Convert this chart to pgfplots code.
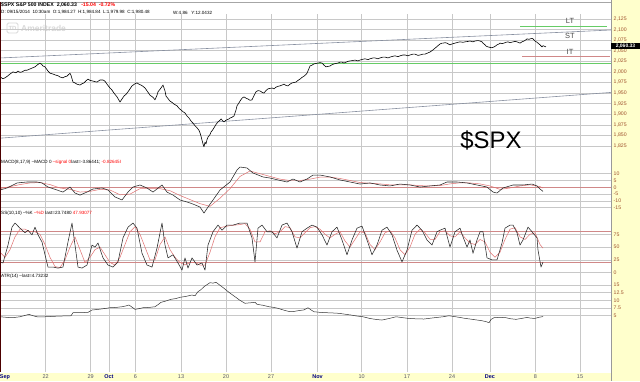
\documentclass[border=0pt]{standalone}
\usepackage{pgfplots}
\pgfplotsset{compat=1.18}
\usepackage{fontspec}
\setmainfont{Liberation Sans}
\definecolor{ybg}{HTML}{FFFFCC}
\definecolor{tickbrown}{HTML}{A0522D}
\definecolor{navy}{HTML}{000080}
\definecolor{daygray}{HTML}{555566}
\definecolor{gridc}{HTML}{C8C8C8}
\definecolor{trend}{HTML}{8890A0}
\definecolor{greenl}{HTML}{66CC66}
\definecolor{redl}{HTML}{D08888}
\definecolor{sigred}{HTML}{E07070}
\definecolor{wm}{HTML}{D8D8D8}
\pgfplotsset{
 panel/.style={
  scale only axis, width=611bp, xmin=0, xmax=611,
  axis line style={draw=none},
  major tick length=0pt,
  xtick={45.7,90.6,109,135.5,181,226,271,317.5,361.6,407,452,490,535.5,580},
  xticklabels={},
  xmajorgrids, ymajorgrids,
  major grid style={draw=gridc, line width=0.55pt},
  yticklabel pos=right,
  yticklabel style={font=\fontsize{5.2}{6}\selectfont, text=tickbrown, anchor=west, inner sep=0pt, xshift=2.5bp},
  clip=false,
  every axis plot/.append style={line width=0.55pt, line join=round},
 }
}
\begin{document}
\begin{tikzpicture}[x=1bp,y=1bp]
\fill[white] (0,0) rectangle (640,381);
\fill[ybg] (611,0) rectangle (640,381);
\fill[ybg] (0,0) rectangle (640,8.5);
\useasboundingbox (0,0) rectangle (640,381);
% watermark
\draw[wm, line width=1pt, rounded corners=1.5pt] (7,348) rectangle (18,358);
\node[text=wm, font=\fontsize{6}{6}\selectfont\bfseries] at (12.5,353) {TD};
\node[anchor=west, text=wm, font=\fontsize{8.5}{9}\selectfont\bfseries, inner sep=0pt] at (21,352.5) {Ameritrade};

% ---------------- main price panel
\begin{axis}[panel, at={(0bp,225bp)}, anchor=south west, height=142bp,
  ymin=1801.4, ymax=2136.8,
  ytick={1825,1850,1875,1900,1925,1950,1975,2000,2025,2050,2075,2100,2125},
  yticklabels={{1,825},{1,850},{1,875},{1,900},{1,925},{1,950},{1,975},{2,000},{2,025},{2,050},{2,075},{2,100},{2,125}}]
\addplot[draw=greenl, line width=0.9pt] coordinates {(0,2020.5) (611,2020.5)};
\addplot[draw=greenl, line width=0.9pt] coordinates {(520,2106.8) (607,2106.8)};
\addplot[draw=redl, line width=1pt] coordinates {(522,2036) (610,2036)};
\addplot[trend, line width=0.6pt] coordinates {(0,2032.9) (611,2099)};
\addplot[trend, line width=0.6pt] coordinates {(0,1843.5) (611,1951.6)};
\addplot[black, line width=0.6pt] coordinates {
(0,1988) (3,1984) (5,1986) (8,1991) (10,1995) (13,2000) (16,1998) (18,2002) (20,1999) (22,2000) (25,2004) (27,2004)
(30,2007) (32,2009) (35,2012) (37,2016) (40,2021) (42,2017) (43,2014) (45,2012) (48,2002) (50,1997) (53,1995) (55,1993)
(58,1991) (60,1988) (63,1986) (65,1989) (67,1990) (70,1997) (71,1992) (73,1976) (75,1974) (77,1971) (80,1969) (82,1972)
(84,1974) (86,1979) (88,1983) (90,1980) (92,1979) (95,1977) (97,1976) (100,1981) (103,1981) (105,1978) (107,1971) (110,1962)
(112,1957) (114,1950) (117,1941) (120,1929) (122,1936) (124,1943) (126,1947) (128,1953) (130,1960) (132,1967) (135,1972) (137,1974)
(139,1971) (141,1969) (143,1966) (145,1962) (148,1952) (150,1945) (153,1940) (155,1934) (157,1945) (158,1953) (161,1962) (163,1969)
(165,1955) (166,1943) (168,1937) (170,1931) (172,1928) (174,1924) (177,1920) (179,1914) (181,1910) (183,1906) (185,1903) (187,1896)
(189,1891) (191,1884) (193,1879) (195,1873) (197,1868) (199,1862) (200,1856) (201,1848) (202,1839) (203,1830) (204,1823) (205,1834)
(206,1830) (207,1840) (208,1846) (210,1852) (211,1858) (213,1864) (214,1868) (216,1876) (218,1882) (220,1886) (221,1889) (223,1884)
(224,1882) (226,1886) (227,1887) (229,1889) (230,1891) (232,1893) (234,1896) (236,1910) (237,1920) (239,1927) (240,1931) (242,1938)
(244,1941) (246,1938) (248,1936) (250,1933) (252,1934) (254,1944) (256,1953) (258,1956) (260,1955) (262,1952) (264,1950) (266,1956)
(268,1960) (270,1961) (272,1962) (274,1960) (276,1964) (278,1966) (280,1967) (282,1969) (284,1971) (286,1968) (288,1967) (290,1971)
(292,1974) (294,1975) (296,1976) (298,1980) (300,1983) (302,1987) (304,1990) (306,1994) (307,1997) (309,2008) (310,2014) (312,2016)
(314,2019) (316,2020) (318,2021) (320,2022) (322,2021) (324,2016) (326,2012) (328,2013) (330,2014) (332,2017) (334,2019) (336,2020)
(338,2021) (340,2023) (342,2023) (344,2021) (346,2023) (348,2025) (350,2026) (353,2027) (355,2028) (358,2026) (360,2028) (363,2030)
(365,2031) (368,2029) (370,2031) (373,2033) (375,2033) (378,2031) (380,2033) (383,2035) (385,2035) (388,2033) (390,2035) (393,2037)
(395,2038) (398,2036) (400,2038) (403,2040) (405,2040) (408,2038) (410,2040) (413,2042) (415,2042) (418,2039) (420,2040) (423,2042)
(425,2042) (428,2045) (430,2047) (433,2052) (435,2056) (438,2062) (440,2066) (442,2068) (443,2068) (445,2069) (447,2068) (449,2065)
(450,2064) (452,2066) (455,2068) (458,2070) (460,2071) (463,2070) (465,2071) (468,2072) (470,2073) (473,2071) (475,2073) (478,2074)
(480,2073) (482,2071) (483,2068) (485,2064) (486,2061) (488,2059) (490,2058) (491,2057) (493,2058) (494,2059) (496,2062) (497,2064)
(499,2066) (500,2068) (502,2067) (504,2068) (506,2070) (508,2071) (510,2069) (513,2071) (515,2072) (517,2071) (519,2069) (520,2068)
(522,2071) (524,2073) (526,2076) (527,2078) (529,2077) (530,2078) (532,2079) (533,2078) (535,2073) (537,2070) (538,2068) (540,2064)
(542,2059) (543,2062) (544,2061) (546,2059)};
\end{axis}

% ---------------- MACD panel
\begin{axis}[panel, at={(0bp,173bp)}, anchor=south west, height=52bp,
  ymin=-15.2, ymax=23,
  ytick={-15,-10,-5,0,5,10}, yticklabels={-15,-10,-5,0,5,10}]
\addplot[redl, line width=0.8pt] coordinates {(0,0) (611,0)};
\addplot[sigred, line width=0.5pt] coordinates {
(0,-1.0) (10,0.5) (20,2.0) (30,3.2) (40,3.5) (50,2.0) (60,-0.5) (70,-1.5) (80,-3.5) (90,-3.0) (100,-1.5) (110,-2.0)
(120,-5.5) (130,-5.0) (140,-1.0) (150,-1.0) (160,-1.0) (170,-2.5) (180,-6.0) (190,-9.0) (200,-12.0) (210,-14.0) (220,-8.0)
(230,-1.0) (240,8.0) (250,12.0) (260,10.0) (270,8.0) (280,6.0) (290,5.0) (300,5.0) (310,6.0) (320,7.5) (330,7.5) (340,6.5)
(350,5.0) (360,3.5) (370,3.0) (380,2.5) (390,1.8) (400,1.8) (410,1.8) (420,1.2) (430,1.0) (440,1.3) (450,2.5) (460,3.3)
(470,3.2) (480,2.5) (490,1.0) (500,-1.5) (510,-0.5) (520,1.0) (530,1.8) (540,0.5) (543,-0.5)};
\addplot[black!85, line width=0.55pt] coordinates {
(0,-2.0) (7,-0.5) (17,3.2) (27,3.9) (37,3.9) (42,3.2) (48,0.2) (57,-2.0) (63,-3.5) (70,0.2) (75,-4.2) (80,-5.7) (87,-3.5)
(93,-1.25) (102,-0.5) (108,-2.0) (115,-7.1) (122,-9.3) (128,-3.5) (133,0.2) (140,1.7) (147,-0.5) (153,-3.5) (162,1.7)
(167,-3.5) (173,-5.7) (180,-9.3) (187,-10.8) (193,-12.3) (200,-14.5) (204,-18.9) (208,-14.5) (213,-9.3) (220,-2.0) (230,3.9)
(237,12.7) (240,14.9) (247,14.2) (253,10.5) (263,7.6) (270,6.8) (278,5.4) (287,3.9) (293,6.1) (300,3.9) (307,6.1) (313,9.0)
(320,9.0) (330,7.6) (340,5.4) (350,3.9) (360,2.4) (370,3.2) (380,1.7) (390,1.0) (400,2.4) (410,1.7) (420,0.2) (430,1.0)
(440,1.7) (447,3.9) (457,3.9) (467,3.2) (477,1.7) (487,0.2) (493,-3.5) (497,-4.2) (503,-0.5) (513,1.7) (523,1.7) (532,2.4)
(537,1.0) (540,-1.25) (543,-3.0)};
\end{axis}

% ---------------- SS panel
\begin{axis}[panel, at={(0bp,108bp)}, anchor=south west, height=65bp,
  ymin=-0.6, ymax=126.4,
  ytick={0,25,50,75}, yticklabels={0,25,50,75}]
\addplot[redl, line width=0.8pt] coordinates {(0,80) (611,80)};
\addplot[redl, line width=0.8pt] coordinates {(0,20) (611,20)};
\addplot[sigred, line width=0.5pt] coordinates {
(0,40) (5,30) (10,45) (15,70) (20,85) (25,85) (30,80) (35,80) (40,75) (45,55) (50,30) (55,12) (60,10) (65,25) (70,50)
(75,70) (80,45) (85,20) (90,30) (95,45) (100,50) (105,35) (110,20) (115,15) (120,30) (125,55) (130,80) (135,90) (140,75)
(145,50) (150,25) (155,25) (160,55) (165,70) (170,45) (175,30) (180,20) (185,15) (190,20) (195,20) (200,15) (205,15)
(210,40) (215,70) (220,88) (225,90) (230,92) (235,93) (240,94) (245,96) (250,85) (255,60) (260,60) (265,80) (270,82)
(275,76) (280,80) (285,90) (290,88) (295,70) (300,68) (305,78) (310,88) (315,90) (320,85) (325,75) (330,68) (335,75)
(340,80) (345,62) (350,50) (355,65) (360,80) (365,78) (370,55) (375,45) (380,60) (385,78) (390,82) (395,68) (400,45)
(405,35) (410,50) (415,75) (420,85) (425,78) (430,65) (435,65) (440,80) (445,82) (450,72) (455,70) (460,80) (465,68)
(470,58) (475,55) (480,65) (485,60) (490,40) (495,30) (500,40) (505,65) (510,85) (515,88) (520,70) (525,65) (530,75)
(535,78) (540,55) (543,48)};
\addplot[black!85, line width=0.55pt] coordinates {
(0,21) (3,19) (8,54) (12,89) (15,97) (20,87) (25,78) (28,83) (32,74) (35,89) (38,74) (42,60) (45,35) (48,11) (53,11)
(58,9) (63,11) (68,60) (72,97) (75,54) (78,11) (82,9) (87,15) (92,54) (95,50) (98,58) (103,29) (108,15) (113,11) (118,21)
(123,68) (128,89) (133,97) (137,87) (142,38) (147,15) (152,11) (157,48) (162,97) (165,54) (168,29) (173,35) (178,19) (182,5)
(185,29) (188,9) (192,29) (197,15) (202,19) (205,5) (208,54) (213,80) (218,93) (222,83) (227,93) (233,93) (240,97) (247,97)
(252,68) (255,21) (258,87) (262,93) (267,80) (272,80) (277,68) (282,93) (287,97) (292,80) (297,48) (302,80) (307,87) (312,93)
(317,89) (322,74) (327,54) (332,80) (337,89) (342,64) (347,35) (352,64) (357,87) (362,91) (367,64) (372,35) (377,54) (382,83)
(387,89) (392,74) (397,44) (402,21) (407,44) (412,83) (417,93) (422,83) (427,64) (432,54) (437,80) (440,83) (445,87) (450,50)
(455,80) (460,87) (463,70) (467,50) (470,64) (473,38) (477,64) (480,80) (483,80) (487,29) (492,25) (497,25) (502,58) (505,87)
(510,93) (513,93) (517,78) (520,54) (523,64) (528,89) (532,80) (537,68) (538,44) (541,11) (543,21)};
\end{axis}

% ---------------- ATR panel
\begin{axis}[panel, at={(0bp,9bp)}, anchor=south west, height=99bp,
  ymin=-13.3, ymax=18.9,
  ytick={5,7.5,10,12.5,15}, yticklabels={5,7.5,10,12.5,15},
  xticklabels={22,29,\textcolor{navy}{\textbf{Oct}},6,13,20,27,\textcolor{navy}{\textbf{Nov}},10,17,24,\textcolor{navy}{\textbf{Dec}},8,15},
  xticklabel style={font=\fontsize{5.5}{6}\selectfont, text=daygray, anchor=north, inner sep=0pt, yshift=-2.5bp},
  extra x ticks={5}, extra x tick labels={\textcolor{navy}{\textbf{Sep}}},
  extra x tick style={grid=none}]
\addplot[black!80, line width=0.5pt] coordinates {
(0,4.67) (6,4.5) (12,4.35) (16,4.5) (20,4.67) (25,5.1) (29,5.46) (33,5.0) (37,4.67) (41,4.6) (45,4.67) (53,4.8) (61,4.9)
(66,4.95) (71,5.0) (73,5.98) (80,6.0) (88,6.1) (92,6.86) (99,7.1) (106,7.41) (110,7.6) (116,7.7) (122,7.93) (126,8.2)
(129,8.49) (132,7.8) (135,7.08) (139,7.3) (143,7.6) (149,7.7) (155,7.93) (158,8.6) (161,9.36) (166,9.8) (171,10.34)
(176,10.6) (180,10.99) (186,11.3) (192,11.74) (195,11.5) (198,12.82) (201,13.5) (204,14.45) (207,15.1) (210,15.75)
(213,15.6) (216,15.88) (220,14.9) (224,13.92) (229,12.6) (235,11.19) (240,10.0) (245,9.04) (250,9.2) (255,9.36) (257,8.71)
(263,8.4) (269,7.93) (274,7.7) (278,7.41) (284,6.8) (290,6.3) (294,6.4) (298,6.63) (304,6.9) (308,7.6) (311,6.9) (314,6.3)
(320,6.1) (327,5.98) (333,5.9) (339,5.78) (345,5.5) (351,5.23) (357,4.9) (363,4.67) (370,4.1) (376,3.8) (382,3.6) (389,4.1)
(396,4.67) (402,4.4) (408,4.15) (416,4.0) (424,3.93) (433,4.3) (443,4.67) (449,5.0) (457,4.6) (465,4.15) (473,3.8) (482,3.37)
(486,3.1) (489,2.72) (491,3.8) (494,4.35) (500,4.5) (506,4.35) (511,4.0) (516,3.83) (521,4.1) (527,4.44) (531,4.2) (535,4.15)
(539,4.5) (543,4.73)};
\end{axis}

% borders
\draw[gray!70, line width=0.6pt] (0,379) -- (611,379);
\draw[black!70!red, line width=0.8pt] (0.4,379) -- (0.4,9);
\draw[gray!80, line width=0.6pt] (611,381) -- (611,0);

% title lines
\node[anchor=west, inner sep=0pt, font=\fontsize{5.2}{6}\selectfont\bfseries] at (1,376.5) {\$SPX S\&P 500 INDEX\ \ 2,060.33\ \ \ \textcolor{red}{-15.04\ \ -0.72\%}};
\node[anchor=west, inner sep=0pt, font=\fontsize{4.6}{5}\selectfont] at (1,368.5) {D: 09/15/2014\ \ 10:30am\ \ O:1,984.27\ \ H:1,984.84\ \ L:1,979.98\ \ C:1,980.48};
\node[anchor=west, inner sep=0pt, font=\fontsize{4.6}{5}\selectfont] at (173,368.5) {W:4.86\ \ \ Y:12.0432};

% panel labels
\node[anchor=west, inner sep=0pt, font=\fontsize{4.6}{5}\selectfont] at (1,218.5) {MACD(8,17,9) --MACD 0 \textcolor{red}{--signal 0}last=-3.86441; \textcolor{red}{-0.82645I}};
\node[anchor=west, inner sep=0pt, font=\fontsize{4.6}{5}\selectfont] at (1,168) {SS(10,10) --\%K \textcolor{red}{--\%D} last=23.7480 \textcolor{red}{47.93077}};
\node[anchor=west, inner sep=0pt, font=\fontsize{4.6}{5}\selectfont] at (1,104.5) {ATR(14) --last=4.73232};

% trend labels
\node[text=black!70, font=\fontsize{7.5}{8}\selectfont] at (570,360) {LT};
\node[text=black!70, font=\fontsize{7.5}{8}\selectfont] at (570,345) {ST};
\node[text=black!70, font=\fontsize{7.5}{8}\selectfont] at (570,329) {IT};

% big symbol
\node[font=\fontsize{24}{24}\selectfont] at (491,241) {\$SPX};

% last price box
\fill[black] (611,332) rectangle (640,338.5);
\node[text=white, inner sep=0pt, font=\fontsize{5}{5}\selectfont\bfseries] at (625.5,335.3) {2,060.33};
\end{tikzpicture}
\end{document}
